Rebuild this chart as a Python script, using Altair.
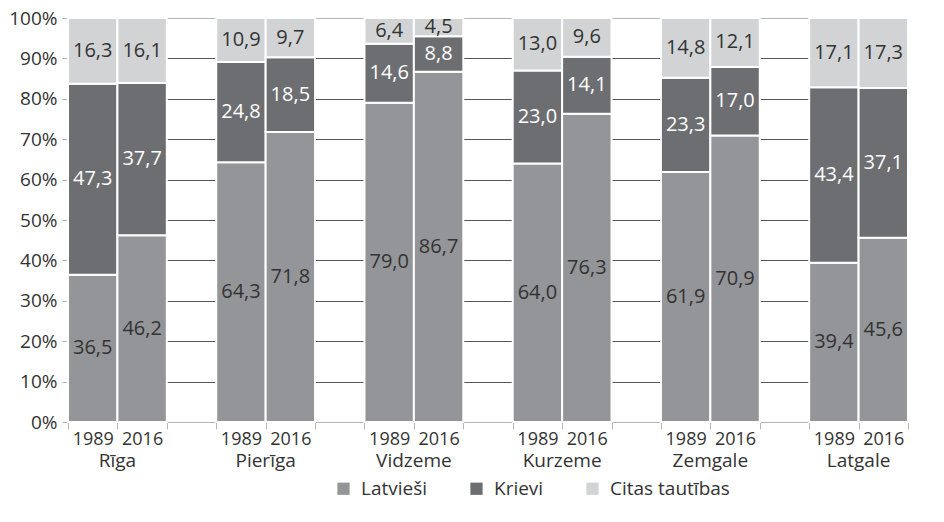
import altair as alt
import pandas as pd

regions = ["Rīga", "Pierīga", "Vidzeme", "Kurzeme", "Zemgale", "Latgale"]
years = ["1989", "2016"]
groups = ["Latvieši", "Krievi", "Citas tautības"]
colors = ["#939598", "#6d6e71", "#d1d3d4"]

# order: region by region, 1989 then 2016
latviesi = [36.5, 46.2, 64.3, 71.8, 79.0, 86.7, 64.0, 76.3, 61.9, 70.9, 39.4, 45.6]
krievi = [47.3, 37.7, 24.8, 18.5, 14.6, 8.8, 23.0, 14.1, 23.3, 17.0, 43.4, 37.1]
citas = [16.3, 16.1, 10.9, 9.7, 6.4, 4.5, 13.0, 9.6, 14.8, 12.1, 17.1, 17.3]

series = [latviesi, krievi, citas]

rows = []
for i in range(len(latviesi)):
    g, yi = divmod(i, 2)
    slot = 3 * g + yi
    total = sum(s[i] for s in series)
    cum = 0.0
    for name, s in zip(groups, series):
        v = s[i]
        y0 = cum / total * 100
        cum += v
        y1 = cum / total * 100
        rows.append({
            "region": regions[g], "year": years[yi], "group": name,
            "value": v, "label": f"{v:.1f}".replace(".", ","),
            "slot": slot, "slot2": slot + 1,
            "mid_slot": slot + 0.5,
            "y0": y0, "y1": y1, "ymid": (y0 + y1) / 2,
        })
df = pd.DataFrame(rows)

reg_df = pd.DataFrame({"region": regions, "center": [3 * g + 1 for g in range(len(regions))]})

W = 840
H = 404
NSLOTS = 3 * len(regions) - 1
FONT = "Open Sans"
TXT = "#333333"

xscale = alt.Scale(domain=[0, NSLOTS], nice=False, zero=False)
yscale = alt.Scale(domain=[0, 100], nice=False)

x_axis = alt.Axis(
    values=list(range(NSLOTS + 1)),
    tickCount=NSLOTS + 1,
    labelExpr="datum.value % 3 == 0 ? '1989' : (datum.value % 3 == 1 ? '2016' : '')",
    labelOffset=W / NSLOTS / 2,
    labelFlush=False, labelOverlap=False, labelBound=False,
    tickColor="#b5b5b5", tickSize=7, domainColor="#b5b5b5",
    labelFontSize=18, labelColor=TXT, labelFont=FONT, labelPadding=1,
    grid=False, title=None,
)
y_axis = alt.Axis(
    values=list(range(0, 101, 10)),
    tickCount=11,
    labelExpr="datum.value + '%'",
    labelOverlap=False,
    tickColor="#b5b5b5", tickSize=6, domainColor="#b5b5b5",
    labelFontSize=19, labelColor=TXT, labelFont=FONT, labelPadding=5,
    grid=True,
    gridColor={"condition": {"test": "datum.value == 100 || datum.value == 0", "value": "#b5b5b5"}, "value": "#555555"},
    gridWidth=1.2,
    title=None,
)

bars = alt.Chart(df).mark_rect(stroke="white", strokeWidth=2).encode(
    x=alt.X("slot:Q", scale=xscale, axis=x_axis),
    x2="slot2:Q",
    y=alt.Y("y1:Q", scale=yscale, axis=y_axis),
    y2="y0:Q",
    color=alt.Color("group:N", scale=alt.Scale(domain=groups, range=colors),
                    legend=alt.Legend(orient="none", legendX=266, legendY=H + 57,
                                      direction="horizontal", title=None,
                                      symbolType="square", symbolSize=150,
                                      symbolStrokeWidth=0, labelFontSize=19,
                                      labelFont=FONT, labelColor=TXT,
                                      columnPadding=39, symbolOffset=0,
                                      labelOffset=8)),
)

labels = alt.Chart(df).mark_text(fontSize=20, font=FONT, baseline="middle", align="center").encode(
    x=alt.X("mid_slot:Q", scale=xscale),
    y=alt.Y("ymid:Q", scale=yscale),
    text="label:N",
    color=alt.condition(alt.datum.group == "Krievi", alt.value("white"), alt.value(TXT)),
)

region_labels = alt.Chart(reg_df).mark_text(fontSize=19, font=FONT, baseline="middle", align="center", color=TXT).encode(
    x=alt.X("center:Q", scale=xscale),
    y=alt.value(H + 39),
    text="region:N",
)

chart = alt.layer(bars, labels, region_labels).properties(
    width=W, height=H,
    padding={"left": 0, "top": 1, "right": 0, "bottom": 0},
).configure_view(stroke=None)

chart.save("out.html", embed_options={"renderer": "svg", "actions": False})
